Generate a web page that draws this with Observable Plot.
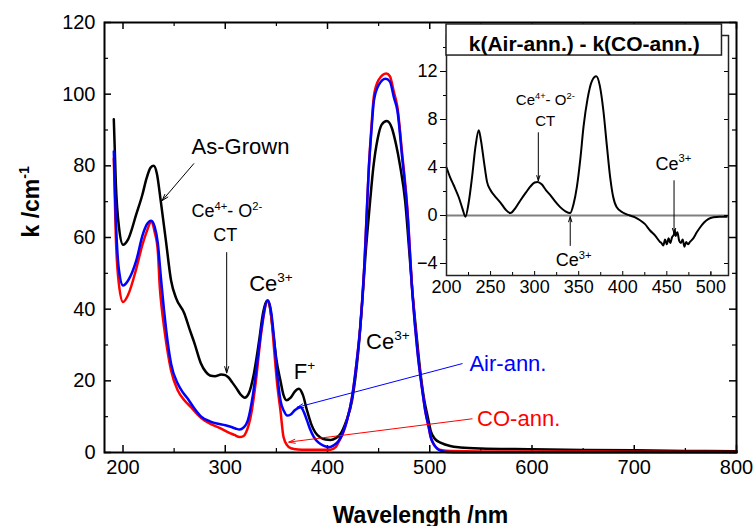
<!DOCTYPE html>
<html><head><meta charset="utf-8">
<script src="https://cdn.jsdelivr.net/npm/d3@7"></script>
<script src="https://cdn.jsdelivr.net/npm/@observablehq/plot@0.6"></script>
<style>
body{margin:0;background:#fff;}
#wrap{position:relative;width:754px;height:526px;overflow:hidden;}
#wrap svg{position:absolute;left:0;top:0;}
</style></head><body><div id="wrap"></div>
<script>
// ---------- DATA (wavelength nm, k cm^-1) ----------
const asGrown = [[191,93],[193,75],[196,63],[200,58],[205,59.5],[213,66.5],[219,72],[223,76.5],[227,79.5],[230,80],[233,78],[237,70],[242,59],[247,48],[252,43],[260,38.8],[265,34.5],[270,30.4],[276,25],[281,22.5],[285,21.5],[290,21.3],[296,21.8],[300,21.6],[303,21],[307,19.5],[311,17.9],[315,16.2],[319,15.3],[323,16.5],[328,22],[333,31],[337,39],[341,42.4],[344,40],[347,33],[350,26],[354,20],[357,16],[360,14.6],[364,15.3],[368,17],[372,17.8],[376,16],[380,11.7],[384,8],[388,5.6],[393,4.2],[398,3.6],[403,3.5],[408,4],[413,5.3],[418,8.5],[424,14.5],[430,28],[434,42],[437,54.5],[441,68],[445,80],[449,87.5],[453,91.5],[458,92.5],[463,90.5],[467,86],[471,80],[476,70],[480,56],[483,45],[487,33],[491,22],[495,14],[498,10],[501,6],[505,3.8],[511,2.7],[520,1.8],[530,1.4],[550,1.1],[600,0.9],[650,0.7],[700,0.6],[750,0.45],[800,0.35]];
const airAnn = [[191,84],[193,65],[196,51],[200,46.6],[205,48],[213,53.6],[219,60.5],[223,63.5],[227.6,64.7],[231,63],[234,58.5],[237,49],[240,40],[242.3,34],[247,24.8],[253.6,19.2],[258,17],[263.4,15],[270,12.2],[276.5,10],[285,8.7],[292.8,8],[300,7.6],[306,7.1],[310,6.7],[314,6.4],[318,7],[322,8.9],[327,16],[332,27],[336,36],[341.7,42.4],[345,39],[348,31],[351,21.5],[354,14.5],[357.5,11.5],[360.6,10.3],[364,10.6],[368,11.8],[373.7,12.6],[377,11.2],[380,8.9],[383,6.5],[386.7,4.3],[391,2.8],[396,1.9],[401.4,1.5],[406,2],[411,3.3],[415,5.5],[419,8.9],[424,15.4],[428,24],[432,35],[436,52],[440.5,79.6],[443,90],[445.4,98.2],[450,102.5],[456.8,104.3],[461,103.5],[465,99],[468.3,95.5],[473,82.4],[478,67.5],[483,44.4],[488,28],[492.7,17.3],[496,11],[499,7.1],[501,4.3],[504,2.3],[507.5,1],[512,0.4],[517,0.15],[530,0.1],[600,0.1],[700,0.1],[800,0.05]];
const coAnn = [[191,82],[193,60],[196,47],[200,42],[205,44],[213,51.3],[219,58],[223,61.5],[227.6,64.3],[231,61.5],[234,56.4],[236,46],[238,40],[240.6,34],[247,22.9],[253.6,17.3],[260,14.6],[266.7,12.6],[273,10.6],[279.7,8.9],[286,7.9],[292.8,7.1],[302.5,5.7],[309,4.9],[314,4.3],[318,4.6],[320.5,5.7],[325.4,10.8],[330,20],[335,33],[341.7,42.4],[345,38],[348,28],[351,18.5],[354,11.7],[357,4.3],[360.6,2],[364,1.2],[367,1],[375,0.8],[386.7,0.8],[395,0.8],[403,0.8],[408,1.5],[411,3],[415,5.3],[419,8.9],[424,15.4],[428,24],[432,35],[436,52],[440.5,80],[443,91],[445.4,99.5],[450,104],[457.5,105.8],[461,105],[465,100.5],[468.3,96.5],[473,83.5],[478,68.5],[483,45],[488,28.5],[492.7,17.5],[496,11],[499,7],[501,4.2],[504,2.2],[507.5,1.1],[512,0.6],[520,0.4],[550,0.3],[600,0.3],[700,0.2],[800,0.15]];
// inset: k(Air-ann.) - k(CO-ann.)
const diffK = [[200,4.0],[204,3.2],[208.3,2.5],[214,1.5],[218,0.6],[221.5,-0.1],[225,1.0],[229,3.2],[233,5.8],[236.6,7.1],[239,6.3],[242.3,4.6],[246,2.8],[250,2.1],[255,1.6],[261,1.1],[267,0.5],[272.5,0.2],[278,0.6],[283.8,1.25],[290,1.9],[295,2.4],[300,2.75],[303.4,2.8],[308,2.6],[313,2.1],[317.8,1.7],[323,1.2],[329,0.7],[335,0.35],[340.4,0.2],[344,0.9],[348,2.4],[352,4.8],[355.5,7.4],[360,9.7],[365,11.2],[370,11.6],[374,10.8],[378,8.75],[382,5.8],[385.7,3.2],[389,1.6],[393,0.7],[400,0.25],[408,0.0],[414,-0.15],[419.7,-0.4],[425,-0.7],[431,-1.25],[437,-1.7],[442.3,-2.2],[444,-2.3],[446,-2.5],[448,-2.0],[450,-2.4],[452,-1.9],[454,-2.3],[456,-1.8],[458,-1.6],[459,-1.2],[460,-1.7],[462,-1.4],[464,-2.1],[466,-2.3],[468,-2.0],[470,-2.6],[472,-2.2],[474,-2.4],[476.3,-2.2],[480,-1.9],[484,-1.4],[487.7,-1.0],[492,-0.6],[497,-0.3],[502.7,-0.15],[510,-0.1],[518,-0.1]];

// tick values
const xTicks = [200,300,400,500,600,700,800];
const xMinor = [250,350,450,550,650,750];
const yTicks = [0,20,40,60,80,100,120];
const yMinor = [10,30,50,70,90,110];
const insetXTicks = [200,250,300,350,400,450,500];
const insetXMinor = [225,275,325,375,425,475,500];
const insetYTicks = [-4,0,4,8,12];
const insetYMinor = [-2,2,6,10,14];

// text labels
const mainLabels = [
  {x:314.9, y:85.2, t:"As-Grown", s:22},
  {x:301.5, y:67.3, t:"Ce^{4+}- O^{2-}", s:18},
  {x:300, y:60.6, t:"CT", s:18},
  {x:344.7, y:47.1, t:"Ce^{3+}", s:22},
  {x:377.5, y:22.4, t:"F^{+}", s:22},
  {x:459.1, y:30.8, t:"Ce^{3+}", s:22}
];
const seriesLabels = [
  {x:538.8, y:24.8, t:"Air-ann.", c:"blue"},
  {x:546.3, y:9.4, t:"CO-ann.", c:"red"}
];
const mainArrows = [
  {x1:269.2, y1:80.6, x2:238.3, y2:70.3, c:"black"},
  {x1:301.4, y1:55.8, x2:301.4, y2:22.2, c:"black"},
  {x1:531.7, y1:24.8, x2:370.3, y2:12.6, c:"blue"},
  {x1:541.4, y1:9.4, x2:362.1, y2:2.9, c:"red"}
];
const insetLabels = [
  {x:312.1, y:9.6, t:"Ce^{4+}- O^{2-}", s:15},
  {x:312.1, y:7.9, t:"CT", s:15},
  {x:344.2, y:-3.75, t:"Ce^{3+}", s:18},
  {x:457.4, y:4.3, t:"Ce^{3+}", s:18}
];
const insetArrows = [
  {x1:304.2, y1:6.9, x2:304.2, y2:2.9},
  {x1:340.4, y1:-2.5, x2:340.4, y2:-0.1},
  {x1:458.2, y1:2.9, x2:458.2, y2:-1.5}
];
const insetTitle = "k(Air-ann.) - k(CO-ann.)";
const titleBox = [{x1:200, x2:512.6, y1:15.92, y2:13.33}];

// ---------- DRAW ----------
const rows = a => a.map(([x,y]) => ({x, y}));
const FONT = "'Liberation Sans', Arial, Helvetica, sans-serif";
const FW = 632, FH = 430;

const main = Plot.plot({
  width: 754, height: 526,
  marginLeft: 104, marginRight: 18, marginTop: 22, marginBottom: 74,
  style: {fontFamily: FONT, fontSize: "20px", background: "white", color: "black", overflow: "visible"},
  x: {domain: [181.9, 800]},
  y: {domain: [0, 120]},
  marks: [
    Plot.axisX(xTicks, {tickSize: 0, tickPadding: 7, fontSize: 20, label: null}),
    Plot.axisY(yTicks, {tickSize: 0, tickPadding: 9, fontSize: 20, label: null}),
    Plot.tickX(xTicks, {x: d => d, insetTop: FH - 7, strokeWidth: 1.5}),
    Plot.tickX(xTicks, {x: d => d, insetBottom: FH - 7, strokeWidth: 1.5}),
    Plot.tickX(xMinor, {x: d => d, insetTop: FH - 4, strokeWidth: 1.2}),
    Plot.tickX(xMinor, {x: d => d, insetBottom: FH - 4, strokeWidth: 1.2}),
    Plot.tickY(yTicks, {y: d => d, insetRight: FW - 7, strokeWidth: 1.5}),
    Plot.tickY(yTicks, {y: d => d, insetLeft: FW - 7, strokeWidth: 1.5}),
    Plot.tickY(yMinor, {y: d => d, insetRight: FW - 4, strokeWidth: 1.2}),
    Plot.tickY(yMinor, {y: d => d, insetLeft: FW - 4, strokeWidth: 1.2}),
    Plot.line(rows(asGrown), {x: "x", y: "y", stroke: "black", strokeWidth: 2.5, curve: "monotone-x"}),
    Plot.line(rows(coAnn), {x: "x", y: "y", stroke: "#ff0000", strokeWidth: 2.5, curve: "monotone-x"}),
    Plot.line(rows(airAnn), {x: "x", y: "y", stroke: "#0000ff", strokeWidth: 2.5, curve: "monotone-x"}),
    Plot.frame({stroke: "black", strokeWidth: 2}),
    Plot.arrow(mainArrows, {x1: "x1", y1: "y1", x2: "x2", y2: "y2", stroke: "c", strokeWidth: 1, headLength: 10, headAngle: 35}),
    Plot.text(mainLabels, {x: "x", y: "y", text: "t", fill: "black", fontSize: "s"}),
    Plot.text(seriesLabels, {x: "x", y: "y", text: "t", fill: "c", fontSize: 22, textAnchor: "start"}),
    Plot.text(["k /cm^{-1}"], {text: d => d, frameAnchor: "left", dx: -73, rotate: -90, fontWeight: "bold", fontSize: 23}),
    Plot.text(["Wavelength /nm"], {text: d => d, frameAnchor: "bottom", dy: 70, fontWeight: "bold", fontSize: 23})
  ]
});

const IW = 282, IH = 240;
const inset = Plot.plot({
  width: 754, height: 526,
  marginLeft: 446, marginRight: 26, marginTop: 35, marginBottom: 251,
  style: {fontFamily: FONT, fontSize: "18px", background: "transparent", color: "black", overflow: "visible"},
  x: {domain: [200, 520]},
  y: {domain: [-5, 15]},
  marks: [
    Plot.frame({fill: "white"}),
    Plot.ruleY([0], {stroke: "#808080", strokeWidth: 2}),
    Plot.line(rows(diffK), {x: "x", y: "y", stroke: "black", strokeWidth: 2, curve: "monotone-x"}),
    Plot.axisY(insetYTicks, {tickSize: 6, tickPadding: 3, fontSize: 18, label: null}),
    Plot.axisY(insetYMinor, {tickSize: 3, tickFormat: () => "", label: null}),
    Plot.axisX(insetXTicks, {tickSize: 0, tickPadding: 5, fontSize: 18, label: null}),
    Plot.tickX(insetXTicks, {x: d => d, insetTop: IH - 4}),
    Plot.tickX(insetXMinor, {x: d => d, insetTop: IH - 3}),
    Plot.tickY(insetYTicks, {y: d => d, insetLeft: IW - 4}),
    Plot.frame({stroke: "#222", strokeWidth: 1.5}),
    Plot.rect(titleBox, {x1: "x1", x2: "x2", y1: "y1", y2: "y2", fill: "white", stroke: "#222", strokeWidth: 1.5}),
    Plot.text([insetTitle], {text: d => d, x: 356.3, y: 14.25, fontWeight: "bold", fontSize: 21}),
    Plot.arrow(insetArrows, {x1: "x1", y1: "y1", x2: "x2", y2: "y2", stroke: "black", strokeWidth: 1, headLength: 8, headAngle: 35}),
    Plot.text(insetLabels, {x: "x", y: "y", text: "t", fontSize: "s", fill: "black"})
  ]
});

const wrap = document.getElementById("wrap");
wrap.appendChild(main);
wrap.appendChild(inset);

// convert "^{...}" markup into superscript tspans
function supify(svg) {
  const ns = "http://www.w3.org/2000/svg";
  svg.querySelectorAll("text").forEach(el => {
    const s = el.textContent;
    if (!s.includes("^{")) return;
    const fs = parseFloat(getComputedStyle(el).fontSize) || 16;
    const shift = 0.42 * fs;
    while (el.firstChild) el.removeChild(el.firstChild);
    const re = /\^\{([^}]*)\}/g;
    let last = 0, m, raised = false;
    const add = (txt, sup) => {
      if (!txt) return;
      const t = document.createElementNS(ns, "tspan");
      t.textContent = txt;
      if (sup) {
        t.setAttribute("font-size", (0.62 * fs).toFixed(1));
        t.setAttribute("dy", (-shift).toFixed(1));
        raised = true;
      } else if (raised) {
        t.setAttribute("dy", shift.toFixed(1));
        raised = false;
      }
      el.appendChild(t);
    };
    while ((m = re.exec(s))) {
      add(s.slice(last, m.index), false);
      add(m[1], true);
      last = m.index + m[0].length;
    }
    add(s.slice(last), false);
  });
}
supify(main);
supify(inset);
</script>
</body></html>
